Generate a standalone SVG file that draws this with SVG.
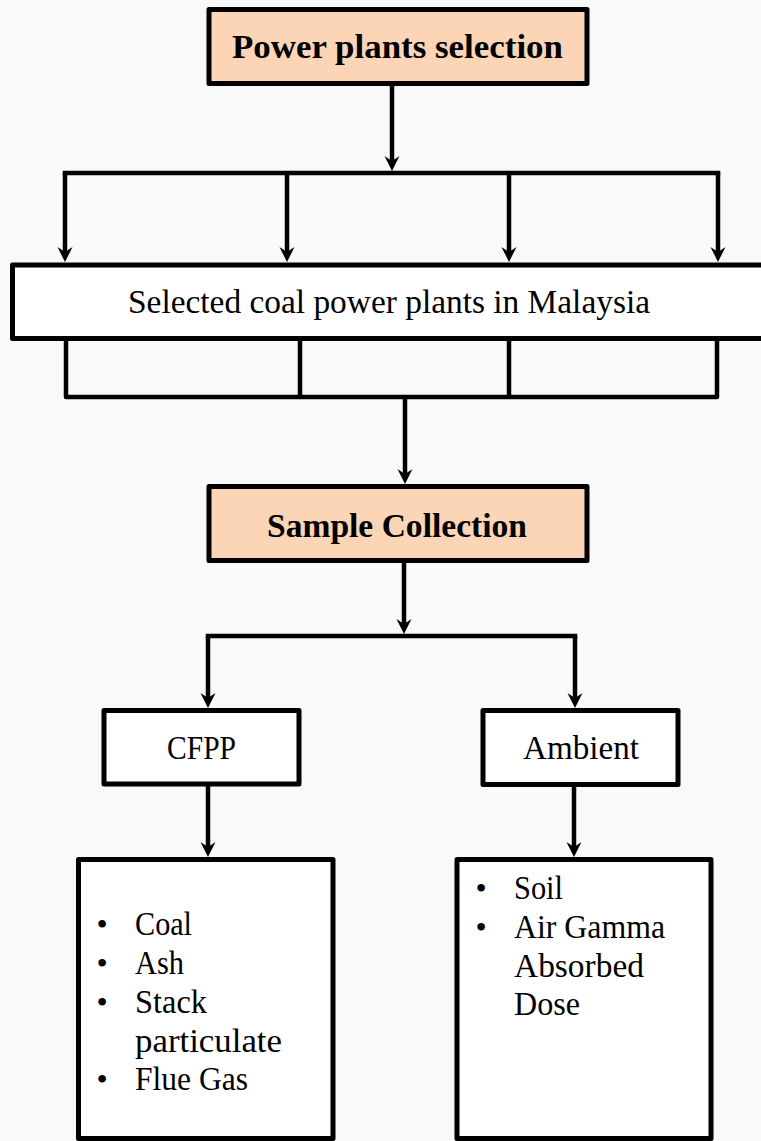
<svg xmlns="http://www.w3.org/2000/svg" width="761" height="1141" viewBox="0 0 761 1141">
  <defs>
    <style>
      .box { stroke: #000; stroke-width: 5; stroke-linejoin: round; }
      .peach { fill: #FBD5B5; }
      .white { fill: #FFFFFF; }
      .conn { stroke: #000; stroke-width: 4.5; fill: none; stroke-linecap: butt; }
      .bus { stroke: #000; stroke-width: 4.5; fill: none; stroke-linecap: square; stroke-linejoin: round; }
      .arrow { marker-end: url(#ah); }
      text { font-family: "Liberation Serif", "DejaVu Serif", serif; fill: #000; }
      .title { font-size: 34px; font-weight: bold; text-anchor: middle; }
      .label { font-size: 33px; text-anchor: middle; }
      .item { font-size: 33px; }
      .bullet { font-size: 32px; text-anchor: middle; }
    </style>
    <marker id="ah" markerUnits="userSpaceOnUse" viewBox="-6 -9 18 18" refX="0" refY="0" markerWidth="18" markerHeight="18" orient="auto">
      <path d="M10,0 L-5,-7.5 L0,0 L-5,7.5 Z" fill="#000"/>
    </marker>
  </defs>

  <rect x="0" y="0" width="761" height="1141" fill="#F9F9F9"/>

  <g id="connectors">
    <line class="conn arrow" x1="392" y1="85" x2="392" y2="161"/>
    <line class="bus" x1="65" y1="173" x2="718" y2="173"/>
    <line class="conn arrow" x1="65" y1="173" x2="65" y2="252"/>
    <line class="conn arrow" x1="287" y1="173" x2="287" y2="252"/>
    <line class="conn arrow" x1="509" y1="173" x2="509" y2="252"/>
    <line class="conn arrow" x1="718" y1="173" x2="718" y2="252"/>

    <path class="bus" d="M66,341 V397 H717 V341"/>
    <line class="conn" x1="300" y1="341" x2="300" y2="397"/>
    <line class="conn" x1="509" y1="341" x2="509" y2="397"/>
    <line class="conn arrow" x1="405" y1="397" x2="405" y2="474"/>

    <line class="conn arrow" x1="404" y1="563" x2="404" y2="624"/>
    <line class="bus" x1="208" y1="636" x2="575" y2="636"/>
    <line class="conn arrow" x1="208" y1="636" x2="208" y2="698"/>
    <line class="conn arrow" x1="575" y1="636" x2="575" y2="698"/>

    <line class="conn arrow" x1="208" y1="786" x2="208" y2="847"/>
    <line class="conn arrow" x1="574" y1="786" x2="574" y2="847"/>
  </g>

  <g id="power-plants-selection">
    <rect class="box peach" x="209" y="9.5" width="378" height="74"/>
    <text class="title" x="397.5" y="58" textLength="331" lengthAdjust="spacingAndGlyphs">Power plants selection</text>
  </g>

  <g id="selected-plants">
    <rect class="box white" x="12.5" y="265" width="760" height="73.5"/>
    <text class="label" x="389" y="313" textLength="522" lengthAdjust="spacingAndGlyphs">Selected coal power plants in Malaysia</text>
  </g>

  <g id="sample-collection">
    <rect class="box peach" x="209" y="486.5" width="378" height="74"/>
    <text class="title" x="397" y="537" textLength="260" lengthAdjust="spacingAndGlyphs">Sample Collection</text>
  </g>

  <g id="cfpp">
    <rect class="box white" x="104" y="710.5" width="195" height="73.5"/>
    <text class="label" x="201.5" y="759" textLength="69" lengthAdjust="spacingAndGlyphs">CFPP</text>
  </g>

  <g id="ambient">
    <rect class="box white" x="483" y="710.5" width="195" height="74"/>
    <text class="label" x="581" y="759" textLength="116" lengthAdjust="spacingAndGlyphs">Ambient</text>
  </g>

  <g id="cfpp-samples">
    <rect class="box white" x="78.5" y="859.5" width="254.5" height="279"/>
    <text class="bullet" x="102" y="935">•</text>
    <text class="item" x="135" y="935" textLength="57" lengthAdjust="spacingAndGlyphs">Coal</text>
    <text class="bullet" x="102" y="974">•</text>
    <text class="item" x="135" y="974" textLength="49" lengthAdjust="spacingAndGlyphs">Ash</text>
    <text class="bullet" x="102" y="1013">•</text>
    <text class="item" x="135" y="1013" textLength="72" lengthAdjust="spacingAndGlyphs">Stack</text>
    <text class="item" x="135" y="1052" textLength="147" lengthAdjust="spacingAndGlyphs">particulate</text>
    <text class="bullet" x="102" y="1090">•</text>
    <text class="item" x="135" y="1090" textLength="113" lengthAdjust="spacingAndGlyphs">Flue Gas</text>
  </g>

  <g id="ambient-samples">
    <rect class="box white" x="457" y="859.5" width="254" height="279"/>
    <text class="bullet" x="481" y="899">•</text>
    <text class="item" x="514" y="899" textLength="49" lengthAdjust="spacingAndGlyphs">Soil</text>
    <text class="bullet" x="481" y="938">•</text>
    <text class="item" x="514" y="938" textLength="151" lengthAdjust="spacingAndGlyphs">Air Gamma</text>
    <text class="item" x="514" y="977" textLength="130" lengthAdjust="spacingAndGlyphs">Absorbed</text>
    <text class="item" x="514" y="1015" textLength="66" lengthAdjust="spacingAndGlyphs">Dose</text>
  </g>
</svg>
